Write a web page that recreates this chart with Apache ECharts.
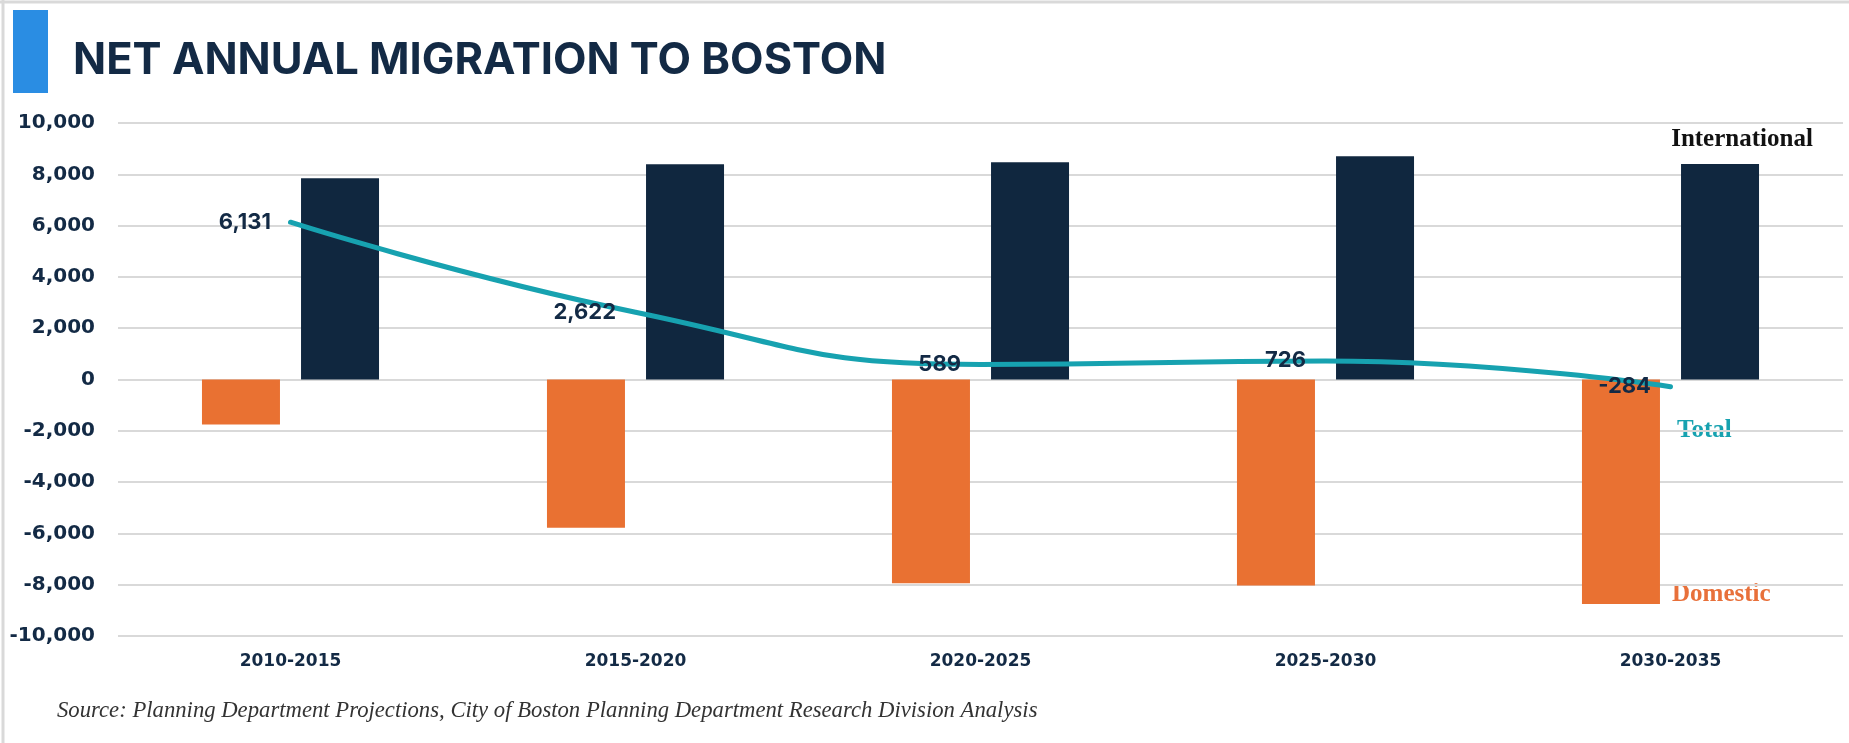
<!DOCTYPE html>
<html>
<head>
<meta charset="utf-8">
<title>Net Annual Migration to Boston</title>
<script src="https://cdn.jsdelivr.net/npm/echarts@6/dist/echarts.min.js"></script>
<style>
    html, body { margin: 0; padding: 0; background: #fff; }
    #chart { width: 1849px; height: 743px; }
</style>
</head>
<body>
<div id="chart"></div>
<script>
// x轴的类别
var periods = ['2010-2015', '2015-2020', '2020-2025', '2025-2030', '2030-2035'];

// 各序列数据
var domestic = [-1750, -5780, -7940, -8030, -8750];
var international = [7850, 8390, 8470, 8700, 8400];
var total = [6131, 2622, 589, 726, -284];

// y轴刻度
var yMin = -10000;
var yMax = 10000;
var yStep = 2000;

var navy = '#10273f';
var orange = '#e97132';
var teal = '#17a2b0';
var serif = '"Liberation Serif", "DejaVu Serif", serif';
var sans = 'Inter, "Open Sans", sans-serif';
var wide = '"DejaVu Sans", Inter, sans-serif';

function fmt(v) {
    return v.toLocaleString('en-US');
}

var chart = echarts.init(document.getElementById('chart'));
var option = {
    animation: false,
    backgroundColor: '#fff',
    title: {
        text: 'NET ANNUAL MIGRATION TO BOSTON',
        left: 73,
        top: 39,
        padding: 0,
        textStyle: {
            fontFamily: sans,
            fontSize: 43.5,
            fontWeight: 'bold',
            color: '#132a45'
        }
    },
    grid: {
        left: 118,
        right: 6,
        top: 123,
        bottom: 107
    },
    xAxis: {
        type: 'category',
        data: periods,
        axisLine: { show: false, onZero: false },
        axisTick: { show: false },
        axisLabel: {
            margin: 17,
            fontFamily: wide,
            fontSize: 17,
            fontWeight: 'bold',
            color: '#132a45'
        }
    },
    yAxis: {
        type: 'value',
        min: yMin,
        max: yMax,
        interval: yStep,
        axisLine: { show: false },
        axisTick: { show: false },
        splitLine: {
            lineStyle: { color: '#d9d9d9', width: 2 }
        },
        axisLabel: {
            margin: 23,
            fontFamily: wide,
            fontSize: 20,
            fontWeight: 'bold',
            color: '#132a45',
            formatter: fmt
        }
    },
    series: [{
        name: 'Domestic',
        type: 'bar',
        barWidth: 78,
        barGap: '27%',
        itemStyle: { color: orange },
        data: domestic
    }, {
        name: 'International',
        type: 'bar',
        barWidth: 78,
        itemStyle: { color: navy },
        data: international
    }, {
        name: 'Total',
        type: 'line',
        smooth: 0.5,
        symbol: 'circle',
        symbolSize: 3,
        showSymbol: true,
        z: 5,
        itemStyle: { color: teal },
        lineStyle: { color: teal, width: 5, cap: 'round' },
        label: {
            show: true,
            position: 'left',
            distance: 18,
            fontFamily: sans,
            fontSize: 22,
            fontWeight: 'bold',
            color: '#132a45',
            formatter: function (p) { return fmt(p.value); }
        },
        data: total
    }],
    graphic: [
        // 外框
        { type: 'line', shape: { x1: 0, y1: 2, x2: 1849, y2: 2 }, style: { stroke: '#d9d9d9', lineWidth: 3 } },
        { type: 'line', shape: { x1: 3, y1: 0, x2: 3, y2: 743 }, style: { stroke: '#d9d9d9', lineWidth: 3 } },
        // 标题左侧蓝条
        { type: 'rect', shape: { x: 13, y: 10, width: 35, height: 83 }, style: { fill: '#2a8de3' } },
        // 序列名称
        { type: 'text', x: 1742, y: 140, style: { text: 'International', fill: '#111', font: 'bold 25px ' + serif, textAlign: 'center', textVerticalAlign: 'middle' } },
        { type: 'text', x: 1677, y: 431, style: { text: 'Total', fill: teal, font: 'bold 25px ' + serif, textAlign: 'left', textVerticalAlign: 'middle' } },
        { type: 'text', x: 1672, y: 595, style: { text: 'Domestic', fill: '#e8703a', font: 'bold 25px ' + serif, textAlign: 'left', textVerticalAlign: 'middle' } },
        // 数据来源
        { type: 'text', x: 57, y: 711, style: { text: 'Source: Planning Department Projections, City of Boston Planning Department Research Division Analysis', fill: '#333', font: 'italic 22.7px ' + serif, textAlign: 'left', textVerticalAlign: 'middle' } }
    ]
};
chart.setOption(option);
</script>
</body>
</html>
